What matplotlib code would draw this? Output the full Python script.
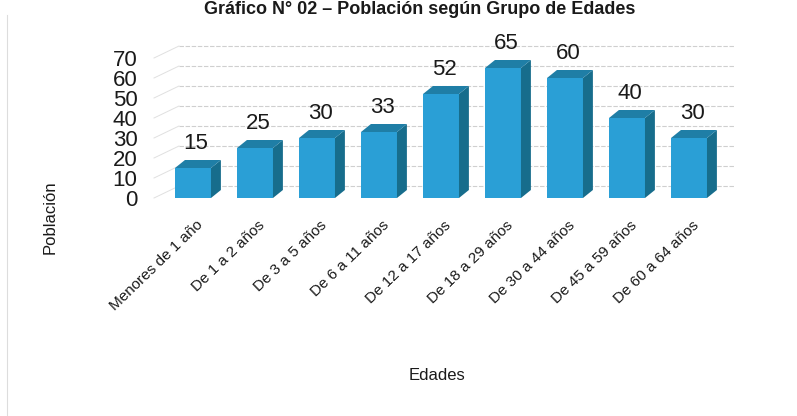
import numpy as np
import matplotlib.pyplot as plt
from matplotlib.patches import Polygon

# datos
grupos = ['Menores de 1 año', 'De 1 a 2 años', 'De 3 a 5 años', 'De 6 a 11 años',
          'De 12 a 17 años', 'De 18 a 29 años', 'De 30 a 44 años', 'De 45 a 59 años',
          'De 60 a 64 años']
poblacion = [15, 25, 30, 33, 52, 65, 60, 40, 30]
yticks = [0, 10, 20, 30, 40, 50, 60, 70]

# colores de las caras
c_front = '#2a9fd6'
c_side = '#176d8c'
c_top = '#1f7ea6'
fam = ['Liberation Sans', 'DejaVu Sans']

fig = plt.figure(figsize=(7.97, 4.16), dpi=100)
W, H = 797, 416

# ejes en pixeles: x centro barra = 193 + 62*i, y = 198 - 2*v
x0, x1 = 150, 735
yb, yt = 205, 40
ax = fig.add_axes([x0 / W, 1 - yb / H, (x1 - x0) / W, (yb - yt) / H])
ax.set_xlim((x0 - 193) / 62, (x1 - 193) / 62)
ax.set_ylim((198 - yb) / 2, (198 - yt) / 2)
for s in ax.spines.values():
    s.set_visible(False)

# profundidad 3D en unidades de datos
ddx, ddy = 0.16, 4.0
wall_dx, wall_dy = 25 / 62, 6.0
xl = (x0 + 4 - 193) / 62

# rejilla en la pared del fondo y diagonales de la pared izquierda
for t in yticks:
    ax.plot([xl + wall_dx, ax.get_xlim()[1]], [t + wall_dy, t + wall_dy],
            color='#cfcfcf', lw=0.8, ls=(0, (4, 1.5)), zorder=0)
    ax.plot([xl, xl + wall_dx], [t, t + wall_dy], color='#e0e0e0', lw=0.7, zorder=0)

w = 0.58
x = np.arange(len(grupos))
ax.bar(x, poblacion, width=w, color=c_front, zorder=3)
for xi, v in zip(x, poblacion):
    l, r = xi - w / 2, xi + w / 2
    ax.add_patch(Polygon([[r, 0], [r + ddx, ddy], [r + ddx, v + ddy], [r, v]],
                         closed=True, facecolor=c_side, edgecolor='none', zorder=3))
    ax.add_patch(Polygon([[l, v], [r, v], [r + ddx, v + ddy], [l + ddx, v + ddy]],
                         closed=True, facecolor=c_top, edgecolor='none', zorder=3))
    ax.text(xi + 0.05, v + ddy + 3, str(v), ha='center', va='bottom', fontsize=16,
            family=fam, color='#1a1a1a')

ax.set_xticks([])
ax.set_yticks(yticks)
ax.set_yticklabels([str(t) for t in yticks], fontsize=16, family=fam, color='#1a1a1a')
ax.tick_params(axis='y', length=0, pad=9)

for xi, g in zip(x, grupos):
    ax.text(xi + 0.05, -10, g, rotation=44, rotation_mode='anchor', ha='right', va='top',
            fontsize=11, family=fam, color='#1a1a1a', clip_on=False)

fig.text(437 / W, 1 - 375 / H, 'Edades', ha='center', va='center', fontsize=12,
         family=fam, color='#1a1a1a')
fig.text(50 / W, 1 - 217 / H, 'Población', ha='center', va='center', rotation=90,
         fontsize=12, family=fam, color='#1a1a1a')
fig.text(420 / W, 1 - 1 / H, 'Gráfico N° 02 – Población según Grupo de Edades',
         ha='center', va='top', fontsize=13, fontweight='bold',
         family=fam, color='#1a1a1a')

# borde del recuadro escaneado
fig.add_artist(plt.Line2D([7 / W, 7 / W], [0, 1 - 15 / H], color='#dddddd', lw=0.8))

fig.savefig('out.png', dpi=100)
